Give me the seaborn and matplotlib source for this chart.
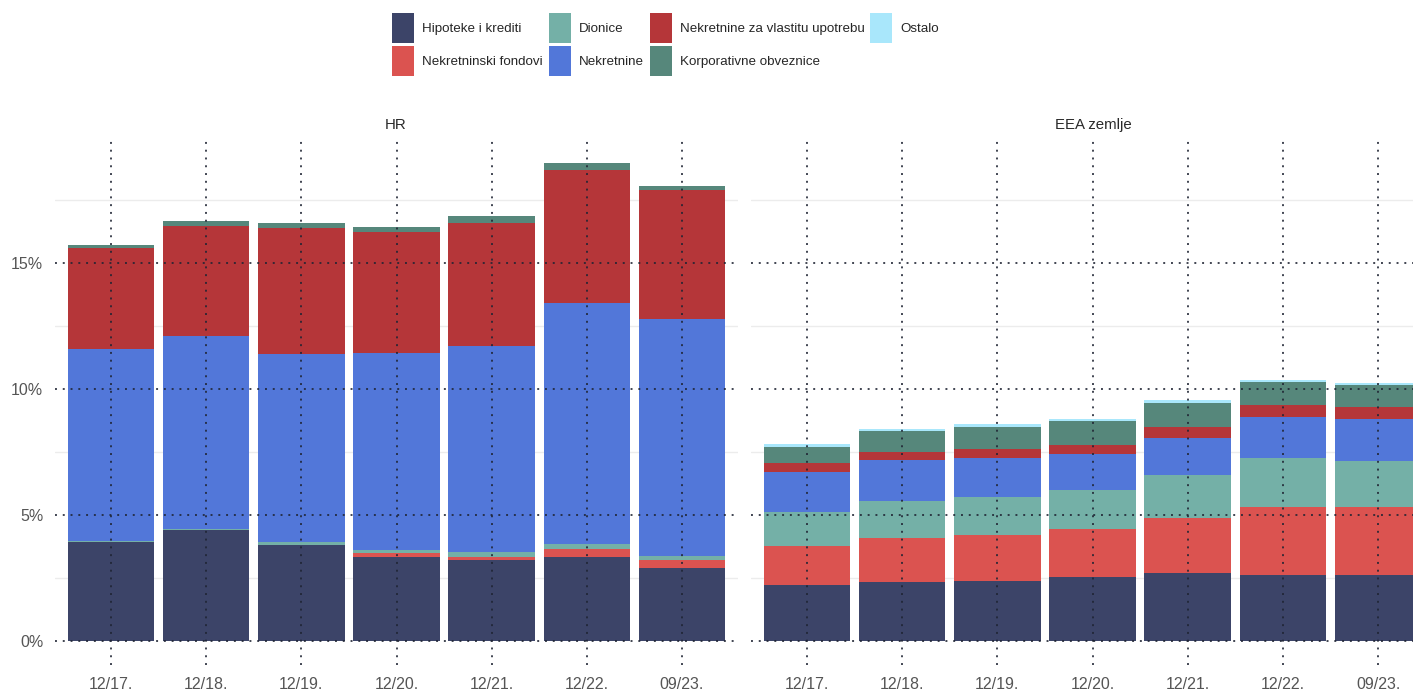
import numpy as np
import pandas as pd
import seaborn as sns
import matplotlib.pyplot as plt
from matplotlib.patches import Patch

# Podaci (udio u ukupnoj imovini, %)
periodi = ['12/17.', '12/18.', '12/19.', '12/20.', '12/21.', '12/22.', '09/23.']
serije = ['Hipoteke i krediti', 'Nekretninski fondovi', 'Dionice', 'Nekretnine',
          'Nekretnine za vlastitu upotrebu', 'Korporativne obveznice', 'Ostalo']
boje = ['#3c4468', '#db5350', '#74b0a7', '#5277d9', '#b53639', '#56877b', '#a9e7fb']

# HR
hr_hipoteke = [3.92, 4.42, 3.81, 3.33, 3.21, 3.33, 2.90]
hr_fondovi = [0.00, 0.00, 0.00, 0.16, 0.12, 0.32, 0.32]
hr_dionice = [0.03, 0.03, 0.12, 0.12, 0.20, 0.20, 0.15]
hr_nekretnine = [7.64, 7.65, 7.46, 7.82, 8.19, 9.56, 9.41]
hr_vlastite = [4.01, 4.37, 5.00, 4.80, 4.87, 5.28, 5.12]
hr_obveznice = [0.11, 0.20, 0.20, 0.20, 0.28, 0.28, 0.16]
hr_ostalo = [0.00, 0.00, 0.00, 0.00, 0.00, 0.00, 0.00]

# EEA zemlje
eea_hipoteke = [2.22, 2.34, 2.39, 2.54, 2.70, 2.61, 2.61]
eea_fondovi = [1.56, 1.76, 1.82, 1.90, 2.19, 2.71, 2.71]
eea_dionice = [1.33, 1.44, 1.49, 1.54, 1.70, 1.93, 1.81]
eea_nekretnine = [1.58, 1.64, 1.56, 1.44, 1.48, 1.65, 1.69]
eea_vlastite = [0.36, 0.33, 0.35, 0.35, 0.42, 0.47, 0.47]
eea_obveznice = [0.66, 0.84, 0.89, 0.96, 0.97, 0.91, 0.88]
eea_ostalo = [0.11, 0.06, 0.11, 0.08, 0.10, 0.08, 0.07]

hr_df = pd.DataFrame(dict(zip(serije, [hr_hipoteke, hr_fondovi, hr_dionice, hr_nekretnine,
                                       hr_vlastite, hr_obveznice, hr_ostalo])), index=periodi)
eea_df = pd.DataFrame(dict(zip(serije, [eea_hipoteke, eea_fondovi, eea_dionice, eea_nekretnine,
                                        eea_vlastite, eea_obveznice, eea_ostalo])), index=periodi)

sns.set_style('white')
plt.rcParams['font.family'] = ['Liberation Sans', 'DejaVu Sans']

W, H = 1413, 691
fs_tick = 11.5
fs_title = 10.8
fs_leg = 9.6
siva = '#555555'
tocke = '#1f2433'

fig = plt.figure(figsize=(W / 100, H / 100), dpi=100)
ax_hr = fig.add_axes([55 / W, (H - 665) / H, (738 - 55) / W, (665 - 140) / H])
ax_eea = fig.add_axes([751 / W, (H - 665) / H, (W - 751) / W, (665 - 140) / H])

for ax, df in [(ax_hr, hr_df), (ax_eea, eea_df)]:
    kum = df.cumsum(axis=1)
    # kumulativni zbrojevi, od vrha prema dnu
    for s, c in zip(reversed(serije), reversed(boje)):
        sns.barplot(x=periodi, y=kum[s].values, color=c, saturation=1, width=0.91,
                    linewidth=0, ax=ax, zorder=1)
    for v in np.arange(2.5, 20, 5):
        ax.axhline(v, color='#ececec', lw=1, zorder=0)
    ax.set_ylim(-0.952, 19.88)
    ax.set_yticks([0, 5, 10, 15])
    ax.grid(True, axis='both', color=tocke, alpha=0.85, lw=1.4, linestyle=(0, (1, 3)))
    ax.set_axisbelow(False)
    ax.tick_params(axis='both', length=0, labelsize=fs_tick, labelcolor=siva)
    ax.tick_params(axis='x', pad=8.5)
    ax.tick_params(axis='y', pad=8.5)
    ax.set_xlabel('')
    ax.set_ylabel('')
    for sp in ax.spines.values():
        sp.set_visible(False)

ax_hr.set_xlim(-0.588, 6.588)
ax_eea.set_xlim(-0.588, 6.366)
ax_hr.set_yticklabels(['0%', '5%', '10%', '15%'])
ax_eea.set_yticklabels([])

fig.text(396 / W, 1 - 125 / H, 'HR', ha='center', va='center', fontsize=fs_title, color='#2a2a2a')
fig.text(1093 / W, 1 - 125 / H, 'EEA zemlje', ha='center', va='center', fontsize=fs_title, color='#2a2a2a')

rucke = [Patch(facecolor=c, edgecolor='none') for c in boje]
fig.legend(rucke, serije, loc='upper left', bbox_to_anchor=(392 / W, 1 - 13 / H),
           ncol=4, frameon=False, fontsize=fs_leg, handlelength=1.65, handleheight=3.08,
           labelspacing=0.23, handletextpad=0.6, columnspacing=0.45,
           borderpad=0, borderaxespad=0)

fig.savefig('out.png', dpi=100)
